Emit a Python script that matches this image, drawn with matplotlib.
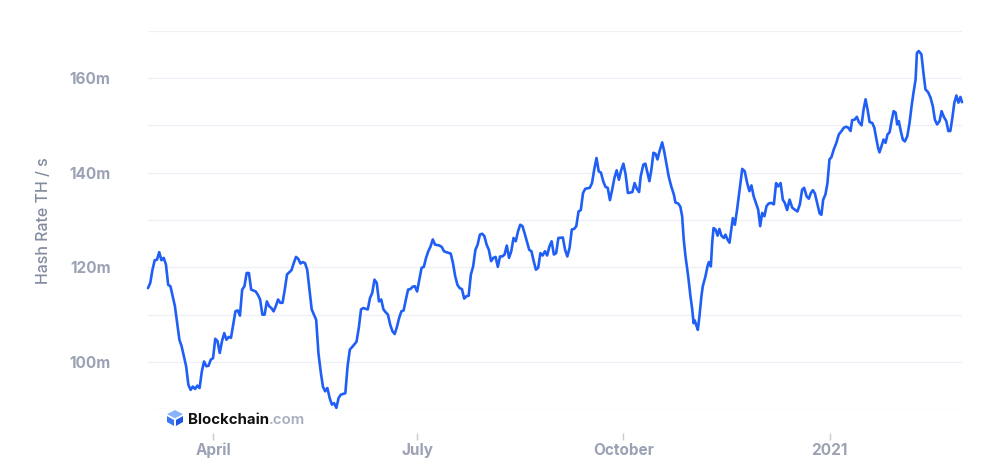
import matplotlib
matplotlib.use('Agg')
import matplotlib.pyplot as plt
import matplotlib.dates as mdates
from matplotlib.ticker import FuncFormatter, MultipleLocator
from matplotlib.patches import Polygon
import datetime as dt

# ---- data: days since 2020-03-01 and hash rate (millions TH/s) ----
start_date = dt.datetime(2020, 3, 1)

days = [
    2, 3, 4, 5, 6, 7, 8, 9, 10, 11, 12, 14, 16, 17, 19, 20, 21, 22, 23, 24,
    25, 26, 27, 28, 29, 30, 31, 32, 33, 34, 35, 36, 37, 38, 39, 40, 41, 42, 43, 44,
    45, 46, 47, 48, 50, 51, 52, 53, 54, 55, 56, 57, 58, 59, 60, 61, 62, 63, 64, 66,
    67, 68, 69, 70, 71, 72, 73, 74, 75, 76, 77, 78, 79, 80, 81, 82, 83, 84, 85, 86,
    87, 88, 90, 91, 92, 94, 95,
    96, 97, 98, 100, 101, 102, 103, 104, 105, 106, 107, 108, 109, 110, 111, 112, 113, 114, 115, 116,
    117, 118, 119, 120, 121, 122, 123, 124, 125, 126, 127, 128, 129, 130, 132, 133, 134, 135, 137, 138,
    139, 140, 141, 142, 143, 144, 145, 146, 147, 148, 149, 150, 151, 152, 153, 154, 155, 156, 157, 158,
    159, 160, 161, 162, 163, 164, 165, 166, 167, 168, 169, 170, 172, 173, 174, 175, 176, 177, 178, 179,
    180, 181, 182, 183, 184, 185, 187, 188, 189, 190, 191, 192, 193, 194, 195, 196, 197, 199, 200, 201,
    202, 203, 204, 205, 206, 207, 208, 209, 210, 211, 212, 213, 214, 215, 216, 218, 219, 220, 221, 221.7,
    222.9, 223.8, 224.7, 225.6, 226.5, 227.4, 228.3, 229.2, 230.1, 231.3, 232.2, 233.1, 234.2, 235.4, 236.5, 237.2,
    238.4, 239.4, 240.2, 240.9, 241.7, 242.9, 243.9, 244.7, 245.3, 245.8, 246.4, 247.2, 247.9, 248.8, 249.4, 250.6,
    251.5, 252.1, 253.0, 253.6, 254.2, 255.1, 256.0, 256.8, 257.7, 258.8, 259.5, 260.4, 261.3, 261.9, 262.8, 263.7,
    264.7, 265.8, 267.0, 268.1, 269.2, 270.2, 271.1, 272.1, 274.1, 275.0, 275.9, 276.9, 277.8, 278.8, 280.0, 281.1,
    282.1, 283.0, 284.1, 285.1, 286.0, 287.0, 288.1, 289.3, 290.4, 291.6, 292.7, 293.7, 294.6, 295.7, 296.7, 297.6,
    298.5, 299.4, 300.4, 301.5, 302.3, 303.1, 304.1, 305.0, 305.9, 306.8, 307.8, 308.9, 310.1, 311.3, 312.3, 313.4,
    314.3, 315.3, 316.0, 317.1, 318.1, 319.0, 320.2, 321.1, 322.0, 322.9, 323.8, 325.0, 325.9, 326.7, 327.6, 328.2,
    329.1, 330.0, 330.9, 331.8, 332.7, 333.6, 334.5, 335.4, 336.1, 336.8, 337.7, 338.6, 339.5, 340.6, 341.6, 342.5,
    343.4, 344.3, 344.9, 345.7, 346.9, 347.8, 348.7, 349.9, 351.0, 352.0, 352.9, 353.9, 355.0, 355.9, 356.9, 358.0,
    358.9, 359.8, 360.7, 361.6, 362.5, 363.4, 364.3, 365.0,
]

hash_rate = [
    115.6, 116.7, 119.5, 121.5, 121.6, 123.2, 121.5, 122.0, 120.6, 116.3, 116.0, 111.8, 104.7, 103.3, 99.1, 95.2, 94.1, 94.8, 94.3, 95.0,
    94.5, 98.0, 100.1, 99.1, 99.2, 100.5, 100.8, 104.9, 104.4, 101.9, 104.4, 106.1, 104.7, 105.3, 105.1, 107.9, 110.7, 110.9, 109.8, 115.3,
    116.0, 118.8, 118.8, 115.3, 114.9, 114.2, 113.2, 110.0, 110.0, 112.8, 111.8, 111.4, 110.7, 111.8, 113.2, 112.5, 112.5, 115.3, 118.5, 119.4,
    120.9, 122.2, 121.8, 120.8, 121.1, 120.9, 119.5, 115.3, 111.1, 110.0, 108.9, 101.9, 98.0, 94.8, 93.8, 94.5, 92.4, 91.0, 91.3, 90.3,
    92.4, 93.1, 93.4, 99.1, 102.6, 103.7, 104.3,
    107.2, 111.1, 111.4, 111.1, 113.5, 114.6, 117.4, 116.7, 112.8, 113.2, 111.1, 110.5, 110.0, 107.9, 106.5, 105.9, 107.4, 109.3, 110.7, 110.9,
    113.2, 115.3, 115.4, 115.9, 116.0, 114.9, 117.4, 119.9, 120.1, 122.0, 123.4, 124.4, 125.9, 124.8, 124.6, 124.3, 123.4, 123.2, 122.9, 120.9,
    118.1, 116.3, 115.6, 115.4, 113.4, 113.9, 114.0, 118.5, 120.2, 123.7, 124.8, 126.9, 127.1, 126.6, 124.8, 123.7, 121.3, 122.0, 122.2, 120.1,
    122.3, 122.3, 122.7, 124.6, 122.0, 123.4, 126.2, 125.5, 127.6, 129.0, 128.7, 127.1, 123.7, 123.4, 121.3, 119.5, 119.9, 123.0, 122.5, 123.4,
    122.5, 124.4, 125.5, 122.7, 123.0, 126.2, 126.3, 123.7, 122.3, 124.1, 128.0, 128.1, 128.7, 131.8, 132.1, 135.7, 136.6, 136.8, 137.8, 140.7,
    143.1, 140.3, 140.0, 138.2, 137.0, 136.8, 134.2, 136.4, 138.9, 140.5, 138.5, 140.5, 141.9, 139.6, 135.7, 135.9, 137.8, 136.6, 135.9, 139.2,
    141.7, 141.9, 140.0, 138.2, 140.7, 144.2, 144.0, 142.8, 144.5, 146.4, 144.5, 142.1, 139.2, 137.0, 135.4, 133.7,
    133.5, 132.8, 130.8, 125.9, 122.3, 118.1, 113.9, 111.1, 108.2, 108.8, 107.9, 106.8, 109.6, 113.9, 116.0, 118.1,
    120.2, 121.1, 120.2, 125.2, 128.3, 128.0, 126.7, 128.1, 126.7, 126.2, 126.9, 125.9, 125.2, 127.3, 130.4, 129.0,
    132.2, 136.4, 140.8, 140.3, 137.8, 136.1, 137.3, 135.0, 132.2, 128.7, 131.5, 130.8, 132.9, 133.5, 133.6, 133.3,
    137.8, 137.1, 137.8, 134.3, 133.6, 132.1, 134.3, 132.6, 132.2, 131.8, 133.3, 136.4, 136.8, 135.0, 134.5, 135.7,
    136.3, 135.6, 133.6, 131.4, 131.1, 134.3, 135.4, 137.8, 142.8, 143.3, 144.9, 146.2, 148.1, 148.8, 149.5, 149.7,
    149.5, 148.8, 151.1, 151.2, 151.8, 150.7, 150.0, 153.3, 155.5, 153.3, 150.7, 150.5, 149.5, 147.4, 145.2, 144.3,
    145.6, 147.0, 146.3, 148.1, 148.5, 150.9, 153.0, 152.7, 150.2, 150.9, 148.8, 147.0, 146.6, 147.7, 150.5, 154.0,
    157.0, 159.7, 165.3, 165.7, 165.0, 161.1, 157.6, 157.0, 155.8, 154.0, 151.2, 150.2, 150.9, 153.0, 151.8, 150.9,
    148.8, 148.8, 151.6, 154.8, 156.3, 154.8, 156.0, 154.9,
]

y_ticks_labeled = [100, 120, 140, 160]

x = [mdates.date2num(start_date + dt.timedelta(days=d)) for d in days]

plt.rcParams['font.family'] = ['Inter', 'DejaVu Sans']
LABEL_C = '#9ba2b4'

fig = plt.figure(figsize=(9.94, 4.65), dpi=100)
ax = fig.add_axes([148 / 994, 1 - 409.3 / 465, 814 / 994, 378.6 / 465])

ax.plot(x, hash_rate, color='#1f5ff5', lw=1.9, solid_joinstyle='round',
        solid_capstyle='round', clip_on=False, zorder=3)

ax.set_xlim(x[0], x[-1])
ax.set_ylim(90, 170)

ax.yaxis.set_major_locator(MultipleLocator(10))
ax.yaxis.set_major_formatter(FuncFormatter(
    lambda v, p: f'{int(round(v))}m' if int(round(v)) in y_ticks_labeled else ''))
ax.grid(axis='y', color='#eef0f5', lw=1.0)
ax.set_axisbelow(True)
for s in ax.spines.values():
    s.set_visible(False)
ax.tick_params(axis='y', length=0, pad=27, labelsize=11, labelcolor=LABEL_C)

def xfmt(v, p):
    d = mdates.num2date(v)
    return str(d.year) if d.month == 1 else d.strftime('%B')

ax.xaxis.set_major_locator(mdates.MonthLocator(bymonth=[1, 4, 7, 10]))
ax.xaxis.set_major_formatter(FuncFormatter(xfmt))
ax.spines['bottom'].set_position(('outward', 17))
ax.tick_params(axis='x', length=5, width=1, color='#c5cad5', pad=2,
               labelsize=11, labelcolor=LABEL_C)
for lab in ax.get_xticklabels() + ax.get_yticklabels():
    lab.set_fontweight('bold')

fig.text(44 / 994, 1 - 221 / 465, 'Hash Rate TH / s', rotation=90, ha='center',
         va='center', fontsize=11.5, color='#838b9e', fontweight='medium')

# Blockchain.com watermark
iax = fig.add_axes([167 / 994, 1 - 426 / 465, 16 / 994, 16 / 465])
iax.set_xlim(0, 1)
iax.set_ylim(0, 1)
iax.axis('off')
iax.add_patch(Polygon([(0.5, 1.0), (1.0, 0.74), (0.5, 0.48), (0.0, 0.74)], closed=True,
                      color='#86b4f9', lw=0))
iax.add_patch(Polygon([(0.0, 0.62), (0.44, 0.38), (0.44, 0.0), (0.0, 0.25)], closed=True,
                      color='#3c78f2', lw=0))
iax.add_patch(Polygon([(0.56, 0.38), (1.0, 0.62), (1.0, 0.25), (0.56, 0.0)], closed=True,
                      color='#1d56e0', lw=0))

t = fig.text(188 / 994, 1 - 424 / 465, 'Blockchain', fontsize=10.8, fontweight='bold',
             color='#111111', va='baseline', ha='left')
ax.annotate('.com', xy=(1, 0), xycoords=t, va='bottom', ha='left', fontsize=10.8,
            color='#a6adbd', fontweight='semibold', annotation_clip=False)

fig.savefig('out.png', dpi=100)
